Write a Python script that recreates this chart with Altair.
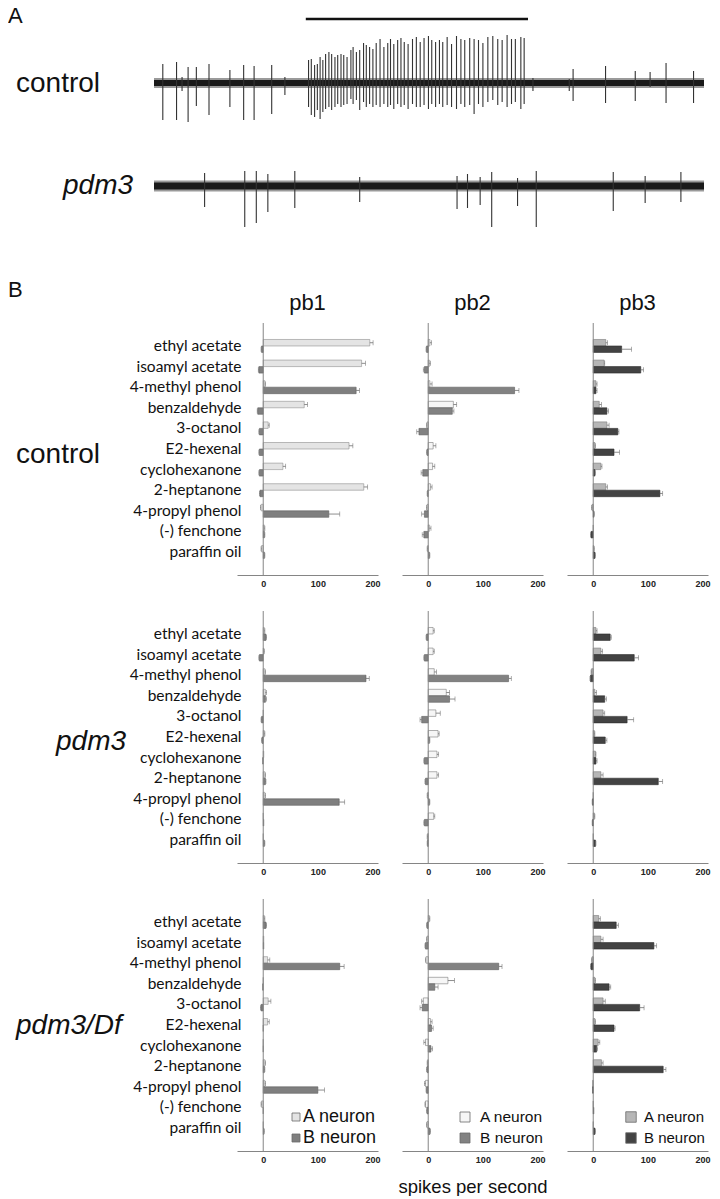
import altair as alt
import pandas as pd

# ---------------- data ----------------
ODORS = ["ethyl acetate", "isoamyl acetate", "4-methyl phenol", "benzaldehyde",
         "3-octanol", "E2-hexenal", "cyclohexanone", "2-heptanone",
         "4-propyl phenol", "(-) fenchone", "paraffin oil"]
NEURONS = ["A", "B"]
SENSILLA = ["pb1", "pb2", "pb3"]
GENOTYPES = ["control", "pdm3", "pdm3/Df"]
LEGEND_LABELS = ["A neuron", "B neuron"]
X_TICKS = [0, 100, 200]
X_TITLE = "spikes per second"

# spikes per second (A / B neuron) and error, in ODORS order
control_pb1_A = [195, 180, 3, 75, 9, 157, 36, 184, -4, 2, -3]
control_pb1_Aerr = [6, 7, 1, 6, 2, 7, 5, 7, 1, 1, 1]
control_pb1_B = [-3, -8, 170, -10, -7, -7, -7, -6, 120, 2, 2]
control_pb1_Berr = [1, 1, 6, 1, 1, 1, 1, 1, 20, 1, 1]

control_pb2_A = [3, 2, 3, 46, -2, 9, 8, 4, -2, 2, -1]
control_pb2_Aerr = [3, 2, 4, 6, 1, 5, 4, 3, 1, 3, 1]
control_pb2_B = [-3, -7, 158, 44, -17, -2, -10, -1, -7, -8, 2]
control_pb2_Berr = [1, 2, 8, 3, 4, 1, 3, 1, 5, 3, 1]

control_pb3_A = [23, 20, 5, 11, 25, 3, 14, 23, -2, 0, 1]
control_pb3_Aerr = [3, 1, 2, 4, 4, 1, 2, 3, 1, 0, 1]
control_pb3_B = [52, 87, 5, 25, 45, 38, 3, 122, 1, -4, 3]
control_pb3_Berr = [18, 5, 2, 3, 2, 10, 1, 5, 1, 1, 1]

pdm3_pb1_A = [2, 1, 3, 4, 0, 2, 1, 3, 3, 0, 0]
pdm3_pb1_Aerr = [1, 1, 1, 2, 0, 1, 0, 1, 1, 0, 0]
pdm3_pb1_B = [5, -7, 188, 4, -3, -2, -1, 4, 139, 1, 2]
pdm3_pb1_Berr = [1, 1, 6, 2, 1, 1, 0, 1, 10, 0, 1]

pdm3_pb2_A = [9, 9, 11, 33, 14, 18, 16, 16, -1, 10, -1]
pdm3_pb2_Aerr = [2, 2, 4, 6, 8, 2, 3, 3, 1, 2, 1]
pdm3_pb2_B = [-3, -7, 147, 39, -12, 2, -7, -5, 2, -7, -1]
pdm3_pb2_Berr = [1, 1, 5, 10, 3, 1, 1, 1, 1, 1, 1]

pdm3_pb3_A = [5, 14, -3, 3, 18, 2, 4, 14, 0, 2, 0]
pdm3_pb3_Aerr = [2, 3, 1, 3, 3, 1, 1, 4, 0, 1, 0]
pdm3_pb3_B = [31, 75, -5, 21, 62, 22, 5, 119, -1, -1, 4]
pdm3_pb3_Berr = [2, 8, 1, 3, 12, 3, 2, 8, 1, 1, 1]

df_pb1_A = [2, 1, 8, 0, 9, 8, 0, 3, 3, -3, 0]
df_pb1_Aerr = [1, 0, 4, 0, 5, 3, 0, 1, 1, 1, 0]
df_pb1_B = [5, 1, 140, -1, -4, 0, 0, 2, 100, 0, 1]
df_pb1_Berr = [1, 0, 8, 0, 1, 0, 0, 1, 12, 0, 1]

df_pb2_A = [2, -2, -4, 36, -9, 4, -5, -1, -5, -5, -2]
df_pb2_Aerr = [1, 1, 1, 12, 3, 3, 3, 1, 2, 1, 1]
df_pb2_B = [-2, -5, 129, 12, -11, 6, 5, -2, -3, -2, 3]
df_pb2_Berr = [1, 1, 6, 6, 4, 3, 3, 1, 1, 1, 1]

df_pb3_A = [10, 14, -2, 3, 18, 3, 9, 15, -1, 0, 0]
df_pb3_Aerr = [3, 4, 1, 1, 4, 1, 3, 3, 0, 0, 0]
df_pb3_B = [42, 111, -4, 29, 85, 38, 6, 128, -1, 1, 3]
df_pb3_Berr = [4, 5, 1, 3, 8, 2, 2, 5, 0, 0, 1]

# Panel A recordings: spike times (s), upward and downward deflections (a.u.)
control_spike_t = [0.16, 0.41, 0.51, 0.62, 0.77, 1.00, 1.38, 1.63, 1.82, 2.14, 2.38,
                   2.81, 2.86, 2.92, 2.97, 3.02, 3.07, 3.12, 3.18, 3.23, 3.29, 3.34, 3.40, 3.45, 3.51,
                   3.58, 3.62, 3.68, 3.74, 3.81, 3.86, 3.92, 3.98, 4.04, 4.11,
                   4.18, 4.25, 4.30, 4.36, 4.43, 4.49, 4.55, 4.62, 4.70, 4.77,
                   4.84, 4.91, 4.99, 5.05, 5.12, 5.19, 5.25, 5.33, 5.41, 5.50,
                   5.58, 5.65, 5.74, 5.82, 5.90, 5.98, 6.07, 6.16, 6.25, 6.33,
                   6.42, 6.50, 6.57, 6.67, 6.73,
                   6.89, 7.55, 7.62, 8.21, 8.75, 9.02, 9.31, 9.81]
control_spike_up = [19, 21, 6, 16, 16, 19, 13, 18, 17, 18, 6,
                    23, 24, 18, 19, 26, 23, 29, 31, 29, 26, 28, 29, 28, 26,
                    33, 36, 31, 33, 40, 38, 36, 34, 40, 44,
                    36, 40, 44, 39, 43, 45, 41, 39, 44, 46,
                    41, 45, 47, 43, 41, 43, 41, 46, 39, 47,
                    44, 43, 45, 44, 43, 40, 46, 47, 44, 43,
                    48, 44, 44, 46, 45,
                    5, 4, 14, 17, 12, 11, 20, 12]
control_spike_down = [37, 37, 8, 39, 23, 32, 24, 37, 37, 31, 12,
                      24, 32, 34, 27, 36, 29, 26, 24, 27, 24, 21, 24, 22, 21,
                      16, 21, 17, 27, 19, 24, 21, 24, 22, 24,
                      21, 24, 22, 26, 21, 24, 22, 26, 21, 24,
                      24, 22, 26, 21, 24, 21, 24, 22, 24, 26,
                      21, 24, 22, 31, 21, 24, 19, 17, 22, 19,
                      24, 21, 19, 26, 21,
                      8, 8, 18, 20, 18, 4, 20, 20]
pdm3_spike_t = [0.92, 1.65, 1.86, 2.07, 2.56, 3.74, 5.51, 5.70, 5.93, 6.14, 6.61, 6.95, 8.35, 8.93, 9.58]
pdm3_spike_up = [13, 15, 15, 12, 15, 9, 10, 12, 9, 14, 8, 15, 14, 10, 14]
pdm3_spike_down = [21, 41, 37, 26, 22, 16, 23, 22, 19, 41, 20, 41, 25, 17, 16]
RECORD_SPAN = [0, 10]
ODOR_STIM = [2.76, 6.80]
control_noise = [5, 3]
pdm3_noise = [5.5, 3.5]

# ---------------- styling ----------------
FONT = "Liberation Sans"
LABEL_FONT = "Lato"
X_DOMAIN = [-48, 210]
PW, PH = 141, 252
AXIS_GREY = "#858585"
ERR_GREY = "#707070"
FILLS = {"pb1": ("#e4e4e4", "#7f7f7f"), "pb2": ("#f6f6f6", "#828282"), "pb3": ("#b6b6b6", "#434343")}
STROKES = {"pb1": ("#8e8e8e", "#5e5e5e"), "pb2": ("#7a7a7a", "#5e5e5e"), "pb3": ("#7a7a7a", "#2e2e2e")}
LEG_POS = {"pb1": (59, 66, 18, 64), "pb2": (63, 78, 15.5, 100), "pb3": (64, 77, 15, 110)}
LETTER_X = -146

DATA = {
    ("control", "pb1"): (control_pb1_A, control_pb1_Aerr, control_pb1_B, control_pb1_Berr),
    ("control", "pb2"): (control_pb2_A, control_pb2_Aerr, control_pb2_B, control_pb2_Berr),
    ("control", "pb3"): (control_pb3_A, control_pb3_Aerr, control_pb3_B, control_pb3_Berr),
    ("pdm3", "pb1"): (pdm3_pb1_A, pdm3_pb1_Aerr, pdm3_pb1_B, pdm3_pb1_Berr),
    ("pdm3", "pb2"): (pdm3_pb2_A, pdm3_pb2_Aerr, pdm3_pb2_B, pdm3_pb2_Berr),
    ("pdm3", "pb3"): (pdm3_pb3_A, pdm3_pb3_Aerr, pdm3_pb3_B, pdm3_pb3_Berr),
    ("pdm3/Df", "pb1"): (df_pb1_A, df_pb1_Aerr, df_pb1_B, df_pb1_Berr),
    ("pdm3/Df", "pb2"): (df_pb2_A, df_pb2_Aerr, df_pb2_B, df_pb2_Berr),
    ("pdm3/Df", "pb3"): (df_pb3_A, df_pb3_Aerr, df_pb3_B, df_pb3_Berr),
}


def bar_panel(geno, sens, first_row, last_row):
    A, Aerr, B, Berr = DATA[(geno, sens)]
    rows = []
    for n, vals, errs in (("A", A, Aerr), ("B", B, Berr)):
        for o, v, e in zip(ODORS, vals, errs):
            rows.append({"odor": o, "neuron": n, "value": v, "err": e,
                         "end": v + (e if v >= 0 else -e)})
    df = pd.DataFrame(rows)
    first_col = sens == "pb1"
    if first_col:
        yaxis = alt.Axis(title=None, domain=False, ticks=False, labelFont=LABEL_FONT,
                         labelFontSize=15.5, labelColor="#111", labelPadding=-4)
    else:
        yaxis = None
    show_title = last_row and sens == "pb2"
    xaxis = alt.Axis(values=X_TICKS, title=X_TITLE if show_title else None, grid=False,
                     ticks=False, domainColor=AXIS_GREY, domainWidth=1,
                     labelFont=FONT, labelFontSize=9, labelFontWeight="bold", labelColor="#222",
                     labelPadding=4, labelFlush=(5 if sens == "pb3" else False),
                     titleFont=FONT, titleFontSize=18.5, titleFontWeight="normal",
                     titleColor="#111", titlePadding=13)
    xs = alt.Scale(domain=X_DOMAIN, nice=False, zero=False)
    y = alt.Y("odor:N", sort=ODORS, scale=alt.Scale(paddingInner=0.37, paddingOuter=0.8), axis=yaxis)
    yoff = alt.YOffset("neuron:N", scale=alt.Scale(domain=NEURONS))
    base = alt.Chart(df)
    layers = []
    for i, n in enumerate(NEURONS):
        layers.append(base.transform_filter(alt.datum.neuron == n)
                      .mark_bar(fill=FILLS[sens][i], stroke=STROKES[sens][i], strokeWidth=0.6)
                      .encode(x=alt.X("value:Q", scale=xs, axis=xaxis), y=y, yOffset=yoff))
    eb = base.transform_filter(alt.datum.err > 0)
    layers.append(eb.mark_rule(color=ERR_GREY, strokeWidth=0.8)
                  .encode(x=alt.X("value:Q", scale=xs, axis=xaxis), x2="end:Q", y=y, yOffset=yoff))
    layers.append(eb.mark_tick(color=ERR_GREY, thickness=0.8, size=5, orient="vertical")
                  .encode(x=alt.X("end:Q", scale=xs, axis=xaxis), y=y, yOffset=yoff))
    layers.append(alt.Chart(pd.DataFrame({"z": [0]})).mark_rule(color=AXIS_GREY, strokeWidth=1)
                  .encode(x=alt.X("z:Q", scale=xs, axis=xaxis)))
    if last_row:
        sx, tx, fs, ss = LEG_POS[sens]
        for i, (lab, yy) in enumerate(zip(LEGEND_LABELS, [218, 239])):
            ld = alt.Chart(pd.DataFrame({"lab": [lab]}))
            layers.append(ld.mark_square(size=ss, fill=FILLS[sens][i], stroke="#6a6a6a",
                                         strokeWidth=0.8, opacity=1)
                          .encode(x=alt.value(sx), y=alt.value(yy)))
            layers.append(ld.mark_text(align="left", baseline="middle", font=FONT, fontSize=fs,
                                       color="#111")
                          .encode(text="lab:N", x=alt.value(tx), y=alt.value(yy)))
    props = dict(width=PW, height=PH)
    if first_row:
        props["title"] = alt.TitleParams(sens, font=FONT, fontSize=22, fontWeight="normal",
                                         color="#111", baseline="alphabetic", offset=-9)
    return alt.layer(*layers).properties(**props)


def spacer(geno, label_x, label_y, letter=None):
    ld = alt.Chart(pd.DataFrame({"lab": [geno]}))
    layers = [ld.mark_text(align="left", baseline="middle", font=FONT, fontSize=28, color="#111",
                           fontStyle=("normal" if geno == "control" else "italic"))
              .encode(text="lab:N", x=alt.value(label_x), y=alt.value(label_y))]
    if letter:
        lt = alt.Chart(pd.DataFrame({"lab": [letter]}))
        layers.append(lt.mark_text(align="left", baseline="middle", font=FONT, fontSize=22, color="#111")
                      .encode(text="lab:N", x=alt.value(LETTER_X), y=alt.value(-33)))
    return alt.layer(*layers).properties(width=59, height=PH)


def trace(label, t, up, down, noise, ydom, height, label_x, label_y, stim=False, letter=None):
    xs = alt.Scale(domain=RECORD_SPAN, nice=False, zero=False)
    ys = alt.Scale(domain=ydom, nice=False, zero=False)
    nd = pd.DataFrame({"t0": [RECORD_SPAN[0]] * 2, "t1": [RECORD_SPAN[1]] * 2,
                       "lo": [-noise[0], -noise[1]], "hi": [noise[0], noise[1]],
                       "k": ["outer", "inner"]})
    sd = pd.DataFrame({"t": t, "lo": [-d for d in down], "hi": up})
    layers = [
        alt.Chart(nd).transform_filter(alt.datum.k == "outer").mark_rect(color="#9a9a9a")
        .encode(x=alt.X("t0:Q", scale=xs, axis=None), x2="t1:Q",
                y=alt.Y("lo:Q", scale=ys, axis=None), y2="hi:Q"),
        alt.Chart(nd).transform_filter(alt.datum.k == "inner").mark_rect(color="#1a1a1a")
        .encode(x=alt.X("t0:Q", scale=xs, axis=None), x2="t1:Q",
                y=alt.Y("lo:Q", scale=ys, axis=None), y2="hi:Q"),
        alt.Chart(sd).mark_rule(color="#333333", strokeWidth=1.1)
        .encode(x=alt.X("t:Q", scale=xs, axis=None),
                y=alt.Y("lo:Q", scale=ys, axis=None), y2="hi:Q"),
    ]
    if stim:
        st = pd.DataFrame({"t0": [ODOR_STIM[0]], "t1": [ODOR_STIM[1]], "v": [64]})
        layers.append(alt.Chart(st).mark_rule(color="#111", strokeWidth=2.5)
                      .encode(x=alt.X("t0:Q", scale=xs, axis=None), x2="t1:Q",
                              y=alt.Y("v:Q", scale=ys, axis=None)))
    lab = alt.Chart(pd.DataFrame({"lab": [label]}))
    layers.append(lab.mark_text(align="left", baseline="middle", font=FONT, fontSize=28, color="#111",
                                fontStyle=("normal" if label == "control" else "italic"))
                  .encode(text="lab:N", x=alt.value(label_x), y=alt.value(label_y)))
    if letter:
        lt = alt.Chart(pd.DataFrame({"lab": [letter]}))
        layers.append(lt.mark_text(align="left", baseline="top", font=FONT, fontSize=22, color="#111")
                      .encode(text="lab:N", x=alt.value(LETTER_X), y=alt.value(-4)))
    return alt.layer(*layers).properties(width=550, height=height)


A1 = trace("control", control_spike_t, control_spike_up, control_spike_down, control_noise,
           [-43, 73], 116, -138, 74, stim=True, letter="A")
A2 = trace("pdm3", pdm3_spike_t, pdm3_spike_up, pdm3_spike_down, pdm3_noise,
           [-50, 24], 74, -91, 24)
block_A = alt.vconcat(A1, A2, spacing=36, bounds="flush")

label_pos = {"control": (-138, 132, "B"), "pdm3": (-98, 131, None), "pdm3/Df": (-138, 127, None)}
cells = []
for gi, g in enumerate(GENOTYPES):
    lx, ly, letter = label_pos[g]
    cells.append(spacer(g, lx, ly, letter))
    for s in SENSILLA:
        cells.append(bar_panel(g, s, gi == 0, gi == len(GENOTYPES) - 1))
block_B = alt.concat(*cells, columns=4, spacing={"row": 36, "column": 24}, bounds="flush")

chart = (alt.vconcat(block_A, block_B, spacing=43)
         .properties(padding={"left": 0, "top": -3, "right": 0, "bottom": 0})
         .configure_view(stroke=None)
         .configure_axis(grid=False))

chart.save("out.html", embed_options={"renderer": "svg", "actions": False})
